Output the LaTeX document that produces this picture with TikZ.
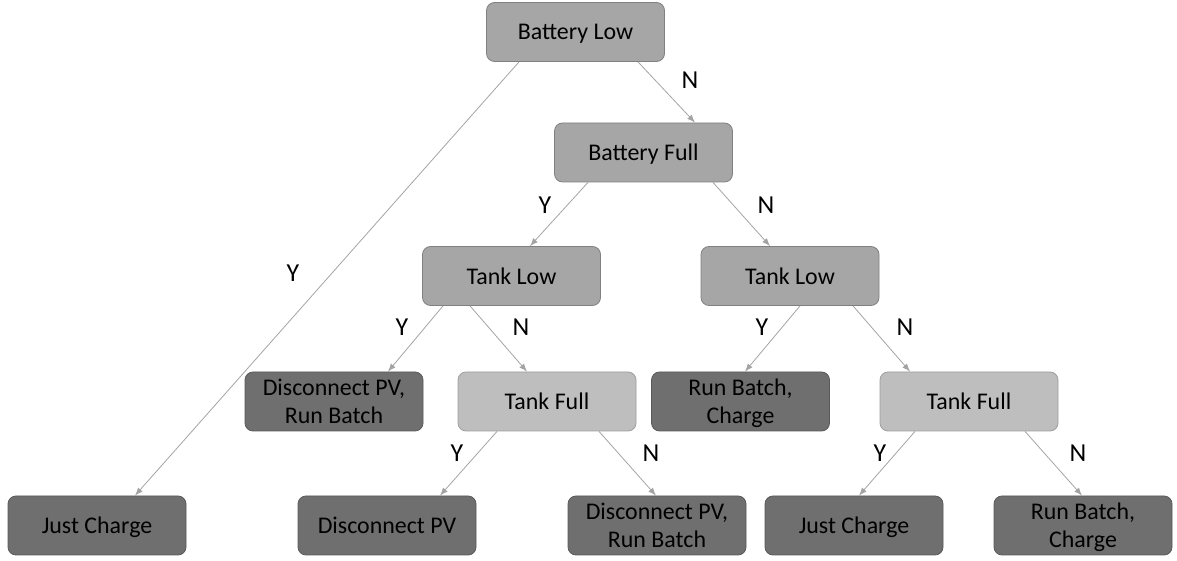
\documentclass[tikz,border=0pt]{standalone}
\usepackage{fontspec}
\setmainfont{Carlito}
\definecolor{decgrey}{HTML}{A6A6A6}
\definecolor{midgrey}{HTML}{BEBEBE}
\definecolor{leafgrey}{HTML}{6F6F6F}
\definecolor{linegrey}{HTML}{A3A3A3}
\tikzset{
  decbox/.style={draw=black!50,fill=decgrey,rounded corners=4bp,minimum width=89bp,minimum height=29.5bp,align=center,text depth=0pt,font=\fontsize{12}{14}\selectfont},
  tankbox/.style={decbox,fill=midgrey,draw=black!38},
  leafbox/.style={decbox,fill=leafgrey,draw=black!65},
  yn/.style={font=\fontsize{13}{15}\selectfont,inner sep=0pt},
}
\begin{document}
\begin{tikzpicture}[>=latex,line join=bevel,]
\useasboundingbox (0bp,0bp) rectangle (588.5bp,280.5bp);
%%
\node (n_batlow) at (287.75bp,264.5bp) [decbox] {Battery Low};
  \node (n_batfull) at (321.75bp,204.25bp) [decbox] {Battery Full};
  \node (n_tanklowA) at (255.75bp,142.5bp) [decbox] {Tank Low};
  \node (n_tanklowB) at (395bp,142.5bp) [decbox] {Tank Low};
  \node (n_discrun) at (167bp,79.75bp) [leafbox] {Disconnect PV,\\Run Batch};
  \node (n_tankfullA) at (273.5bp,79.75bp) [tankbox] {Tank Full};
  \node (n_runcharge) at (370.25bp,79.75bp) [leafbox] {Run Batch,\\Charge};
  \node (n_tankfullB) at (484.5bp,79.75bp) [tankbox] {Tank Full};
  \node (n_charge) at (48.5bp,17.75bp) [leafbox] {Just Charge};
  \node (n_disc) at (193.5bp,17.75bp) [leafbox] {Disconnect PV};
  \node (n_discrunB) at (328.5bp,17.75bp) [leafbox] {Disconnect PV,\\Run Batch};
  \node (n_chargeB) at (427bp,17.75bp) [leafbox] {Just Charge};
  \node (n_runchargeB) at (541.5bp,17.75bp) [leafbox] {Run Batch,\\Charge};
%
  \draw [linegrey,->] ([xshift=-28.25bp]n_batlow.south) -- ([xshift=19bp]n_charge.north);
  \draw [linegrey,->] ([xshift=31.25bp]n_batlow.south) -- ([xshift=25.75bp]n_batfull.north);
  \draw [linegrey,->] ([xshift=-27.75bp]n_batfull.south) -- ([xshift=9.25bp]n_tanklowA.north);
  \draw [linegrey,->] ([xshift=34.75bp]n_batfull.south) -- ([xshift=-10bp]n_tanklowB.north);
  \draw [linegrey,->] ([xshift=-34.25bp]n_tanklowA.south) -- ([xshift=27bp]n_discrun.north);
  \draw [linegrey,->] ([xshift=-20.75bp]n_tanklowA.south) -- ([xshift=-10bp]n_tankfullA.north);
  \draw [linegrey,->] ([xshift=5bp]n_tanklowB.south) -- ([xshift=2.25bp]n_runcharge.north);
  \draw [linegrey,->] ([xshift=31.5bp]n_tanklowB.south) -- ([xshift=-29.5bp]n_tankfullB.north);
  \draw [linegrey,->] ([xshift=-25bp]n_tankfullA.south) -- ([xshift=26.5bp]n_disc.north);
  \draw [linegrey,->] ([xshift=26bp]n_tankfullA.south) -- ([xshift=-0.5bp]n_discrunB.north);
  \draw [linegrey,->] ([xshift=-27bp]n_tankfullB.south) -- ([xshift=2.5bp]n_chargeB.north);
  \draw [linegrey,->] ([xshift=28bp]n_tankfullB.south) -- ([xshift=-0.5bp]n_runchargeB.north);
%
  \node (l_n1) at (345bp,240.5bp) [yn] {N};
  \node (l_y1) at (146.5bp,144bp) [yn] {Y};
  \node (l_y2) at (272.5bp,178bp) [yn] {Y};
  \node (l_n2) at (383bp,178bp) [yn] {N};
  \node (l_y3) at (201bp,117bp) [yn] {Y};
  \node (l_n3) at (260.5bp,117bp) [yn] {N};
  \node (l_y4) at (381bp,117bp) [yn] {Y};
  \node (l_n4) at (452.5bp,117bp) [yn] {N};
  \node (l_y5) at (228.5bp,54bp) [yn] {Y};
  \node (l_n5) at (325.5bp,54bp) [yn] {N};
  \node (l_y6) at (440bp,54bp) [yn] {Y};
  \node (l_n6) at (539bp,54bp) [yn] {N};
%
\end{tikzpicture}
\end{document}
